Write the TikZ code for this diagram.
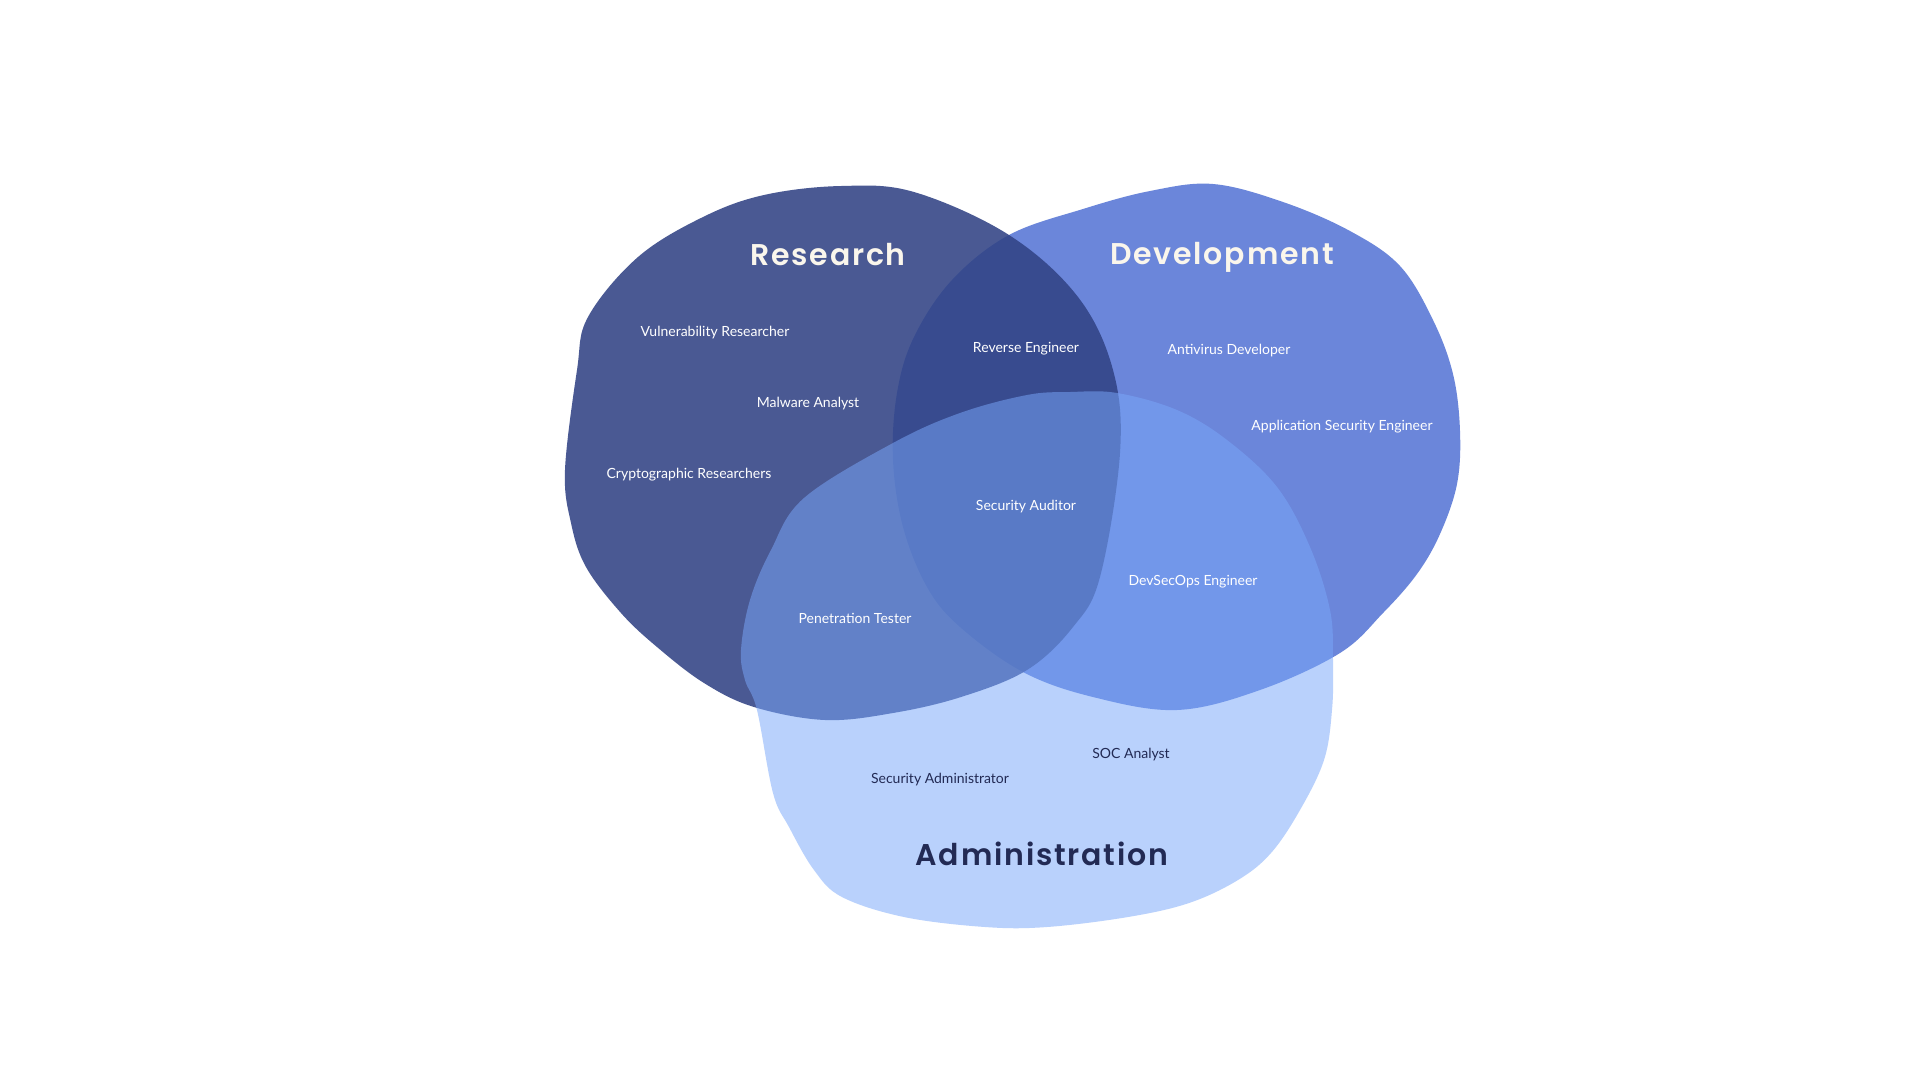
\documentclass[tikz,border=0pt]{standalone}
\usepackage{fontspec}
\setmainfont{Lato}
\newfontfamily\titlefont{Poppins SemiBold}[LetterSpace=6]

\definecolor{resblue}{RGB}{49,67,133}
\definecolor{devblue}{RGB}{107,134,218}
\definecolor{admblue}{RGB}{121,167,250}
\definecolor{cream}{RGB}{250,246,236}
\definecolor{navy}{RGB}{34,42,84}

\begin{document}
\begin{tikzpicture}[
    x=1pt, y=-1pt,
    heading/.style={font=\titlefont\fontsize{30}{34}\selectfont, anchor=base},
    role/.style={font=\fontsize{14}{16}\selectfont, text=white}
  ]
    \useasboundingbox (0,0) rectangle (1920,1080);
    \fill[white] (0,0) rectangle (1920,1080);
    % Development
    \fill[devblue] plot[smooth cycle, tension=0.6] coordinates {
      (1213,184) (1283,202) (1350,231) (1400,266) (1433,320) (1453,374)
      (1460,431) (1457,484) (1440,534) (1417,574) (1383,613) (1340,653)
      (1260,690) (1177,710) (1093,697) (1023,672) (960,627) (927,587)
      (903,527) (893,460) (897,393) (914,337) (952,280) (1009,235)
      (1083,209) (1150,191)};
    % Research
    \fill[resblue, fill opacity=0.88] plot[smooth cycle, tension=0.6] coordinates {
      (841,186) (914,192) (1009,235) (1078,297) (1113,370) (1120,453)
      (1100,577) (1073,627) (1027,670) (961,697) (893,713) (825,720)
      (754,707) (704,683) (657,647) (621,613) (586,567) (571,523)
      (565,470) (577,370) (588,317) (638,257) (703,217) (764,195)};
    % Administration
    \fill[admblue, fill opacity=0.52] plot[smooth cycle, tension=0.6] coordinates {
      (804,498) (893,443) (960,413) (1027,395) (1070,392) (1117,393)
      (1177,410) (1227,440) (1277,487) (1310,547) (1330,610) (1333,660)
      (1332,710) (1324,760) (1300,810) (1271,853) (1238,880) (1189,903)
      (1128,917) (1047,927) (985,927) (904,917) (842,897) (814,870)
      (789,827) (773,793) (757,710) (745,680) (741,650) (750,600) (771,550)};

    \node[heading, text=cream] (research) at (828,265) {Research};
    \node[heading, text=cream] (development) at (1222,264) {Development};
    \node[heading, text=navy] (administration) at (1042,865) {Administration};

    \node[role] (vuln) at (715,333) {Vulnerability Researcher};
    \node[role] (malware) at (808,404) {Malware Analyst};
    \node[role] (crypto) at (689,475) {Cryptographic Researchers};
    \node[role] (reverse) at (1026,349) {Reverse Engineer};
    \node[role] (antivirus) at (1229,351) {Antivirus Developer};
    \node[role] (appsec) at (1342,427) {Application Security Engineer};
    \node[role] (auditor) at (1026,507) {Security Auditor};
    \node[role] (devsecops) at (1193,582) {DevSecOps Engineer};
    \node[role] (pentest) at (855,618) {Penetration Tester};
    \node[role, text=navy] (soc) at (1131,755) {SOC Analyst};
    \node[role, text=navy] (secadmin) at (940,780) {Security Administrator};
  \end{tikzpicture}
\end{document}
